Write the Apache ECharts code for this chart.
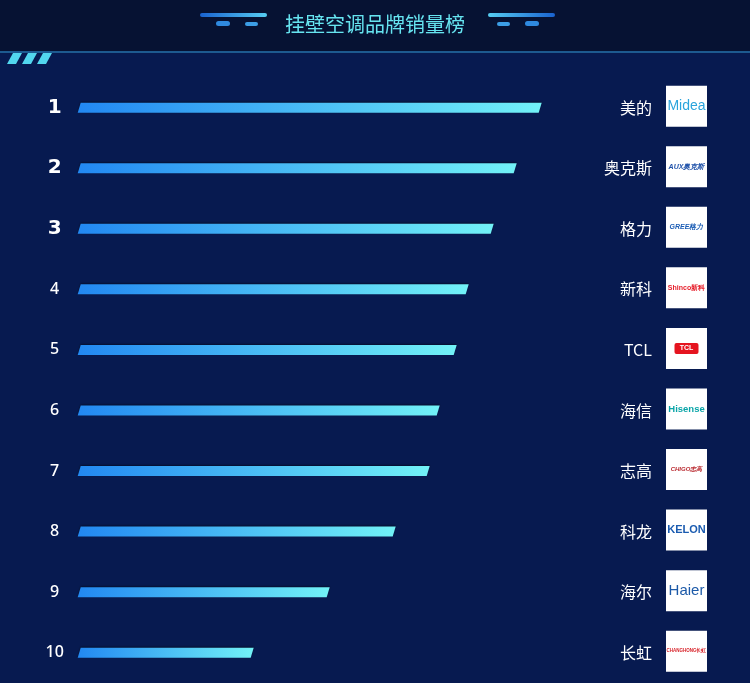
<!DOCTYPE html>
<html>
<head>
<meta charset="utf-8">
<script src="https://cdn.jsdelivr.net/npm/echarts@6/dist/echarts.min.js"></script>
<style>
html,body{margin:0;padding:0;background:#071a50;}
#chart{width:750px;height:683px;}
</style>
</head>
<body>
<div id="chart"></div>
<script>
// ---- data ----
const titleText = '挂壁空调品牌销量榜';
const ranks = ['1', '2', '3', '4', '5', '6', '7', '8', '9', '10'];
const brands = ['美的', '奥克斯', '格力', '新科', 'TCL', '海信', '志高', '科龙', '海尔', '长虹'];
const sales = [464, 439, 416, 391, 379, 362, 352, 318, 252, 176];
const logoTexts = ['Midea', 'AUX奥克斯', 'GREE格力', 'Shinco新科', 'TCL', 'Hisense', 'CHIGO志高', 'KELON', 'Haier', 'CHANGHONG长虹'];

// ---- styles ----
const logoStyles = [
  {color: '#2aa4dc', size: 14, weight: 'normal', family: 'Liberation Sans'},
  {color: '#1c4fa8', size: 7, weight: 'bold', family: 'Liberation Sans', style: 'italic'},
  {color: '#1b5db5', size: 7, weight: 'bold', family: 'Liberation Sans', style: 'italic'},
  {color: '#e61e2a', size: 7, weight: 'bold', family: 'Liberation Sans'},
  {color: '#ffffff', size: 7, weight: 'bold', family: 'Liberation Sans', box: '#e5141f'},
  {color: '#0aa5a8', size: 9.5, weight: 'bold', family: 'Liberation Sans'},
  {color: '#b8262c', size: 6, weight: 'bold', family: 'Liberation Sans', style: 'italic'},
  {color: '#1a5bb0', size: 11, weight: 'bold', family: 'Liberation Sans'},
  {color: '#1d5aa8', size: 15, weight: 'normal', family: 'Liberation Sans'},
  {color: '#d8232a', size: 4.5, weight: 'bold', family: 'Liberation Sans'}
];

const chart = echarts.init(document.getElementById('chart'), null, {renderer: 'canvas'});

const barGradient = () => new echarts.graphic.LinearGradient(0, 0, 1, 0, [
  {offset: 0, color: '#2288f2'},
  {offset: 1, color: '#72f2f7'}
]);

function stripe(x) {
  return {
    type: 'polygon',
    shape: {points: [[x, 64], [x + 6, 53], [x + 15, 53], [x + 9, 64]]},
    style: {fill: '#52d6ee'}
  };
}

const decoGrad = (rev) => new echarts.graphic.LinearGradient(rev ? 1 : 0, 0, rev ? 0 : 1, 0, [
  {offset: 0, color: '#1a63d0'},
  {offset: 1, color: '#56cdf2'}
]);

const option = {
  backgroundColor: '#071a50',
  animation: false,
  title: {
    text: titleText,
    left: 'center',
    top: 9,
    textStyle: {
      color: '#66e4f0',
      fontSize: 20,
      fontWeight: 'normal',
      fontFamily: 'Noto Sans CJK SC'
    }
  },
  graphic: [
    {type: 'rect', z: -10, shape: {x: 0, y: 0, width: 750, height: 51}, style: {fill: '#061233'}},
    {type: 'rect', z: -9, shape: {x: 0, y: 51, width: 750, height: 2}, style: {fill: '#1d5a90'}},
    stripe(7), stripe(22), stripe(37),
    // left title decoration
    {type: 'rect', shape: {x: 200, y: 13, width: 67, height: 4, r: 2}, style: {fill: decoGrad(false)}},
    {type: 'rect', shape: {x: 216, y: 21, width: 14, height: 5, r: 2.5}, style: {fill: '#2f8ae0'}},
    {type: 'rect', shape: {x: 245, y: 22, width: 13, height: 4, r: 2}, style: {fill: '#3c9ee6'}},
    // right title decoration
    {type: 'rect', shape: {x: 488, y: 13, width: 67, height: 4, r: 2}, style: {fill: decoGrad(true)}},
    {type: 'rect', shape: {x: 497, y: 22, width: 13, height: 4, r: 2}, style: {fill: '#3c9ee6'}},
    {type: 'rect', shape: {x: 525, y: 21, width: 14, height: 5, r: 2.5}, style: {fill: '#2f8ae0'}}
  ],
  grid: {left: 77.7, top: 77.4, width: 500, height: 607, containLabel: false},
  xAxis: {type: 'value', min: 0, max: 500, show: false},
  yAxis: [
    {
      type: 'category',
      inverse: true,
      data: ranks,
      position: 'left',
      axisLine: {show: false},
      axisTick: {show: false},
      splitLine: {show: false},
      axisLabel: {
        margin: 23,
        align: 'center',
        formatter: function (v, i) {
          return i < 3 ? '{top|' + v + '}' : '{n|' + v + '}';
        },
        rich: {
          top: {color: '#ffffff', fontSize: 20, fontWeight: 'bold', fontFamily: 'DejaVu Sans'},
          n: {color: '#ffffff', fontSize: 16, fontWeight: 500, fontFamily: 'Noto Sans'}
        }
      }
    },
    {
      type: 'category',
      inverse: true,
      data: brands,
      position: 'right',
      axisLine: {show: false},
      axisTick: {show: false},
      splitLine: {show: false},
      axisLabel: {
        margin: 74.3,
        align: 'right',
        color: '#ffffff',
        fontSize: 16,
        fontFamily: 'Noto Sans CJK SC'
      }
    }
  ],
  series: [
    {
      type: 'custom',
      yAxisIndex: 0,
      encode: {x: 0, y: 1},
      data: sales.map((v, i) => [v, i]),
      renderItem: function (params, api) {
        const v = api.value(0), c = api.value(1);
        const p0 = api.coord([0, c]);
        const p1 = api.coord([v, c]);
        const h = 10, s = 3;
        const yt = p0[1] - h / 2, yb = p0[1] + h / 2;
        return {
          type: 'polygon',
          shape: {points: [[p0[0], yb], [p0[0] + s, yt], [p1[0], yt], [p1[0] - s, yb]]},
          style: {fill: barGradient(), shadowColor: 'rgba(0,0,0,0.45)', shadowBlur: 2, shadowOffsetY: -1}
        };
      }
    },
    {
      type: 'custom',
      yAxisIndex: 1,
      encode: {x: 0, y: 1},
      clip: false,
      data: brands.map((b, i) => [0, i]),
      renderItem: function (params, api) {
        const c = api.value(1);
        const p = api.coord([0, c]);
        const cy = p[1] - 1.5;
        const st = logoStyles[c];
        const bx = 666, bw = 41;
        const children = [
          {type: 'rect', shape: {x: bx, y: cy - bw / 2, width: bw, height: bw}, style: {fill: '#ffffff'}}
        ];
        if (st.box) {
          children.push({type: 'rect', shape: {x: bx + 8.5, y: cy - 5.5, width: 24, height: 11, r: 2}, style: {fill: st.box}});
        }
        children.push({
          type: 'text',
          style: {
            x: bx + bw / 2, y: cy,
            text: logoTexts[c],
            fill: st.color,
            fontSize: st.size,
            fontWeight: st.weight,
            fontStyle: st.style || 'normal',
            fontFamily: st.family,
            align: 'center',
            verticalAlign: 'middle'
          }
        });
        return {type: 'group', children: children};
      }
    }
  ]
};

chart.setOption(option);
</script>
</body>
</html>
